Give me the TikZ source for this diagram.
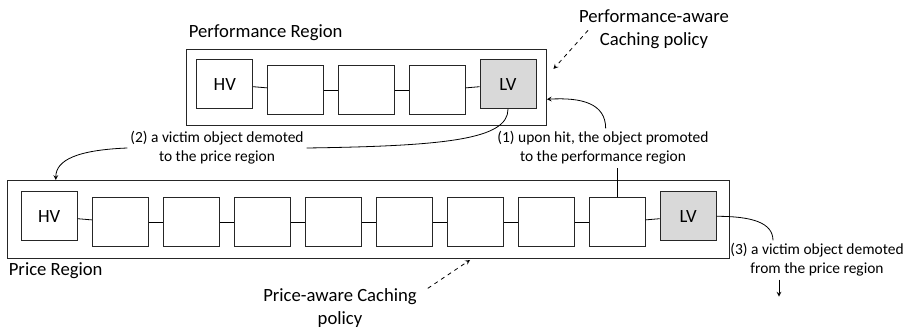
\documentclass[tikz,border=0pt]{standalone}
\usepackage{fontspec}
\setmainfont{Carlito}
\usepackage{xcolor}
\usepackage{tikz}
\usetikzlibrary{matrix}

\definecolor{lvgray}{HTML}{D9D9D9}
\tikzset{
  cell/.style={draw=black!85,line width=0.6pt,minimum width=42pt,minimum height=36.75pt,inner sep=0pt,
    font=\fontsize{14}{16.5}\selectfont},
  lowcell/.style={cell,fill=lvgray},
  region/.style={draw=black!85,line width=0.6pt},
  title/.style={font=\fontsize{14}{16.5}\selectfont},
  policy/.style={align=center,inner sep=2pt,font=\fontsize{14}{16.9}\selectfont},
  label/.style={align=center,inner sep=2pt,font=\fontsize{11.6}{14.25}\selectfont}
}

\begin{document}
\begin{tikzpicture}[x=0.75pt,y=-0.75pt,>=stealth,line width=0.6pt]
\useasboundingbox (0,0) rectangle (906,331);
% performance region
\matrix (perf) [%
  matrix of nodes,nodes in empty cells,nodes={cell},
  column sep=10.5pt,
  region,inner sep=7.5pt,anchor=north west] at (186,49) {
HV & & & & |[lowcell]| LV \\
};
\foreach \a/\b in {1/2,2/3,3/4,4/5}
  \draw (perf-1-\a) -- (perf-1-\b);
% price region
\matrix (price) [%
  matrix of nodes,nodes in empty cells,nodes={cell},
  column sep=10.65pt,
  region,inner xsep=10pt,inner ysep=8.25pt,anchor=north west] at (7,180) {
HV & & & & & & & & & |[lowcell]| LV \\
};
\foreach \a/\b in {1/2,2/3,3/4,4/5,5/6,6/7,7/8,8/9,9/10}
  \draw (price-1-\a) -- (price-1-\b);
% labels
\node[title,anchor=west] (perftitle) at (184,33) {Performance Region};
\node[policy] (perfpol) at (654,29) {Performance-aware\\Caching policy};
\node[label] (hit) at (603,148) {(1) upon hit, the object promoted\\to the performance region};
\node[label] (demote) at (217,148) {(2) a victim object demoted\\to the price region};
\node[title,anchor=west] (pricetitle) at (4,271) {Price Region};
\node[policy] (pricepol) at (340,308) {Price-aware Caching\\policy};
\node[label] (evict) at (817,260) {(3) a victim object demoted\\from the price region};
\coordinate (pa) at (470,260);
% policies
\draw[->,dashed] ([xshift=9pt,yshift=-1pt]perfpol.west) -- ([xshift=5pt,yshift=-15pt]perf.north east);
\draw[->,dashed] ([xshift=6pt,yshift=-2pt]pricepol.north east) -- (pa);
% (1) promotion
\draw (price-1-9.north) -- (price-1-9.north |- hit.south);
\draw[->] ([xshift=2pt]hit.north) .. controls +(0,-25) and +(35,-2) .. ([yshift=-9pt]perf.east);
% (2) demotion
\draw (perf-1-5.south) .. controls +(0,30) and +(140,-2) .. (demote.east);
\draw[->] (demote.west) .. controls +(-50,2) and +(0,-20) .. ([xshift=5pt]price-1-1.north |- price.north);
% (3) eviction
\draw (price-1-10.east) .. controls +(35,0) and +(0,-18) .. ([xshift=-33pt]evict.north);
\draw[->] ([xshift=-28.5pt]evict.south) -- ++(0,17);
\end{tikzpicture}
\end{document}
